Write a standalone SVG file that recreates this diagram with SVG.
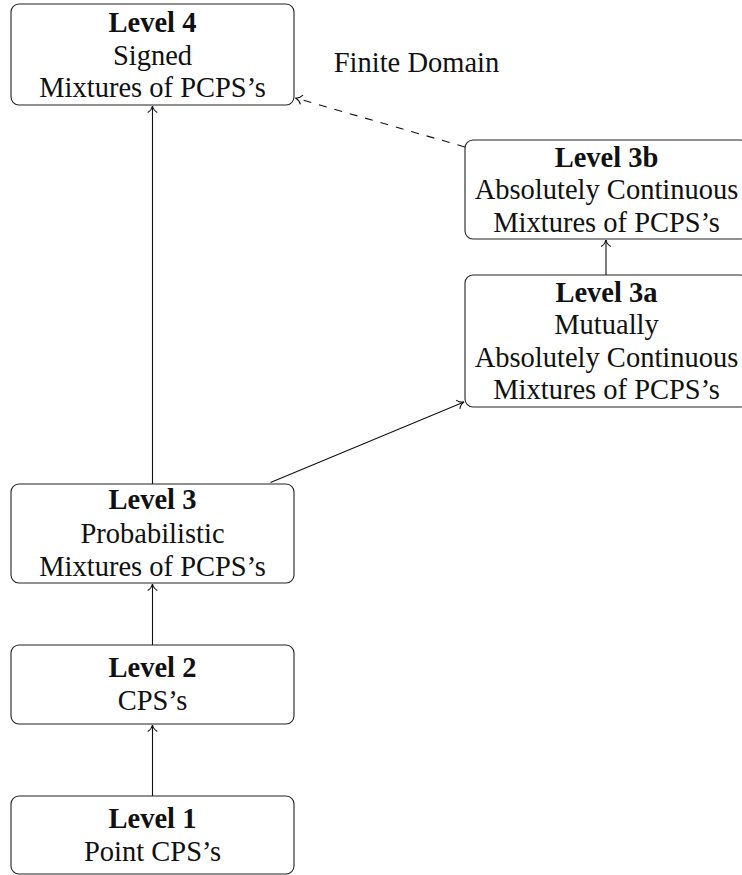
<svg xmlns="http://www.w3.org/2000/svg" width="742" height="875" viewBox="0 0 742 875">
<style>
.box{fill:#fff;stroke:#222;stroke-width:1.1}
text{font-family:"Liberation Serif","Times New Roman",serif;font-size:28.5px;fill:#111;text-anchor:middle}
.b{font-weight:bold}
.edge{fill:none;stroke:#111;stroke-width:1.1}
.dash{stroke-dasharray:8 8}
</style>
<defs>
<marker id="to" markerUnits="userSpaceOnUse" markerWidth="16" markerHeight="16" viewBox="-9 -8 11 16" refX="0" refY="0" orient="auto">
<path d="M-6.5,-4.8 C-4.8,-1.8 -1.8,-0.4 0,0 C-1.8,0.4 -4.8,1.8 -6.5,4.8" fill="none" stroke="#111" stroke-width="1.1"/>
</marker>
</defs>
<g id="connectors">
<line class="edge" x1="152.5" y1="796" x2="152.5" y2="725" marker-end="url(#to)"/>
<line class="edge" x1="152.5" y1="645" x2="152.5" y2="584" marker-end="url(#to)"/>
<line class="edge" x1="152.5" y1="484" x2="152.5" y2="106" marker-end="url(#to)"/>
<line class="edge" x1="270.5" y1="482.5" x2="464" y2="402" marker-end="url(#to)"/>
<line class="edge" x1="606" y1="275" x2="606" y2="240" marker-end="url(#to)"/>
<line class="edge dash" x1="465" y1="147" x2="295.5" y2="98" marker-end="url(#to)"/>
<text x="416.5" y="72">Finite Domain</text>
</g>
<g id="level4">
<rect class="box" x="11" y="4" width="283" height="101" rx="8"/>
<text class="b" x="152.5" y="32.3">Level 4</text>
<text x="152.5" y="65">Signed</text>
<text x="152.5" y="96.7">Mixtures of PCPS’s</text>
</g>
<g id="level3b">
<rect class="box" x="465" y="140" width="283" height="99" rx="8"/>
<text class="b" x="606.5" y="166.7">Level 3b</text>
<text x="606.5" y="198.5">Absolutely Continuous</text>
<text x="606.5" y="231.7">Mixtures of PCPS’s</text>
</g>
<g id="level3a">
<rect class="box" x="465" y="275" width="283" height="132" rx="8"/>
<text class="b" x="606.5" y="301.7">Level 3a</text>
<text x="606.5" y="334">Mutually</text>
<text x="606.5" y="366.7">Absolutely Continuous</text>
<text x="606.5" y="399.3">Mixtures of PCPS’s</text>
</g>
<g id="level3">
<rect class="box" x="11" y="484" width="283" height="99" rx="8"/>
<text class="b" x="152.5" y="509.3">Level 3</text>
<text x="152.5" y="542.7">Probabilistic</text>
<text x="152.5" y="576">Mixtures of PCPS’s</text>
</g>
<g id="level2">
<rect class="box" x="11" y="645" width="283" height="79" rx="8"/>
<text class="b" x="152.5" y="677.3">Level 2</text>
<text x="152.5" y="710">CPS’s</text>
</g>
<g id="level1">
<rect class="box" x="11" y="796" width="283" height="78" rx="8"/>
<text class="b" x="152.5" y="828.3">Level 1</text>
<text x="152.5" y="860.7">Point CPS’s</text>
</g>
</svg>
